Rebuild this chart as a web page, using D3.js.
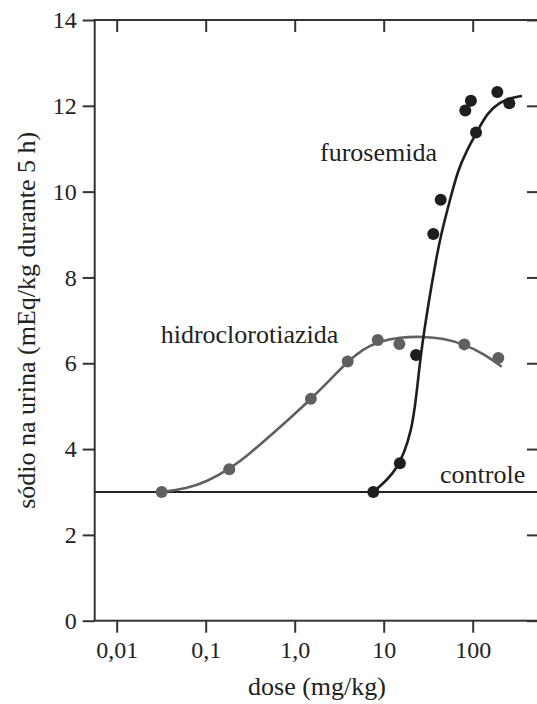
<!DOCTYPE html>
<html>
<head>
<meta charset="utf-8">
<script src="https://cdn.jsdelivr.net/npm/d3@7"></script>
<style>
body{margin:0;background:#fff;}
text{font-family:"Liberation Serif","Times New Roman",serif;fill:#222;}
</style>
</head>
<body>
<script>
var w=537;
var h=704;

// tick values and labels
var doseTicks=[0.01,0.1,1,10,100];
var doseTickLabels=["0,01","0,1","1,0","10","100"];
var naTicks=[0,2,4,6,8,10,12,14];
var controle=3;

var hidroDose=[0.032,0.184,1.52,3.94,8.57,15,80.5,194];
var hidroNa=[3.0,3.53,5.17,6.04,6.54,6.45,6.44,6.12];
var hidroCurveDose=[0.032,0.061,0.103,0.184,0.315,0.575,0.964,1.52,2.49,3.94,5.9,8.57,15.2,27.9,46.7,80.5,131,212];
var hidroCurveNa=[3.0,3.08,3.24,3.53,3.90,4.37,4.79,5.17,5.61,6.04,6.33,6.50,6.61,6.62,6.58,6.44,6.23,5.92];

var furoDose=[7.64,15.2,23.1,36.1,43.7,82.6,95.5,109,189,258];
var furoNa=[3.0,3.67,6.19,9.01,9.81,11.89,12.12,11.38,12.32,12.06];
var furoCurveDose=[7.64,10.9,14.1,16.9,20.3,23.1,25.9,32.3,38.7,44.1,55.6,68.4,86.3,111.7,144.9,202.8,269,358];
var furoCurveNa=[3.0,3.28,3.56,3.91,4.40,5.14,6.19,7.48,8.41,9.01,9.81,10.51,10.97,11.39,11.83,12.09,12.18,12.23];

var mLeft=94.7, mRight=539, mTop=20, mBottom=620.7;

var xScale=d3.scaleLog()
	.domain([0.01,100])
	.range([116.7,472.7]);

var yScale=d3.scaleLinear()
	.domain([0,14])
	.range([mBottom,mTop]);

var svg=d3.select("body")
	.append("svg")
	.attr("width",w)
	.attr("height",h);

// axes
function styleAxis(g){
	g.select(".domain").remove();
	g.selectAll("line").attr("stroke","#333").attr("stroke-width",2);
	g.selectAll("text").attr("fill","#222").style("font-size","24px")
		.style("font-family","'Liberation Serif','Times New Roman',serif");
}

svg.append("g")
	.attr("transform","translate(0,"+mBottom+")")
	.call(d3.axisBottom(xScale).tickValues(doseTicks)
		.tickFormat(function(d,i){return doseTickLabels[i];})
		.tickSize(12).tickPadding(8))
	.call(styleAxis);

svg.append("g")
	.attr("transform","translate(0,"+mTop+")")
	.call(d3.axisTop(xScale).tickValues(doseTicks).tickFormat("").tickSize(-12))
	.call(styleAxis);

svg.append("g")
	.attr("transform","translate("+mLeft+",0)")
	.call(d3.axisLeft(yScale).tickValues(naTicks).tickSize(12).tickPadding(6))
	.call(styleAxis);

svg.append("g")
	.attr("transform","translate("+mRight+",0)")
	.call(d3.axisRight(yScale).tickValues(naTicks).tickFormat("").tickSize(-12))
	.call(styleAxis);

// frame
svg.append("rect")
	.attr("x",mLeft)
	.attr("y",mTop)
	.attr("width",mRight-mLeft)
	.attr("height",mBottom-mTop)
	.attr("fill","none")
	.attr("stroke","#333")
	.attr("stroke-width",2);

// control line
svg.append("line")
	.attr("x1",mLeft)
	.attr("x2",mRight)
	.attr("y1",yScale(controle))
	.attr("y2",yScale(controle))
	.attr("stroke","#222")
	.attr("stroke-width",1.8);

var line=d3.line()
	.x(function(d){return xScale(d[0]);})
	.y(function(d){return yScale(d[1]);})
	.curve(d3.curveBasis);

function drawSeries(cd,cn,pd,pn,color){
	svg.append("path")
		.datum(d3.zip(cd,cn))
		.attr("d",line)
		.attr("fill","none")
		.attr("stroke",color)
		.attr("stroke-width",2.6);
	svg.append("g")
		.selectAll("circle")
		.data(d3.zip(pd,pn))
		.enter()
		.append("circle")
		.attr("cx",function(d){return xScale(d[0]);})
		.attr("cy",function(d){return yScale(d[1]);})
		.attr("r",6)
		.attr("fill",color);
}

drawSeries(hidroCurveDose,hidroCurveNa,hidroDose,hidroNa,"#606060");
drawSeries(furoCurveDose,furoCurveNa,furoDose,furoNa,"#1e1e1e");

// labels
function label(x,y,s){
	svg.append("text").attr("x",x).attr("y",y).style("font-size","26px").text(s);
}
label(320,161,"furosemida");
label(160.7,343,"hidroclorotiazida");
label(440,483,"controle");

svg.append("text")
	.attr("x",317)
	.attr("y",695)
	.attr("text-anchor","middle")
	.style("font-size","26px")
	.text("dose (mg/kg)");

svg.append("text")
	.attr("transform","translate(35,"+((mTop+mBottom)/2)+") rotate(-90)")
	.attr("text-anchor","middle")
	.style("font-size","26px")
	.text("sódio na urina (mEq/kg durante 5 h)");
</script>
</body>
</html>
